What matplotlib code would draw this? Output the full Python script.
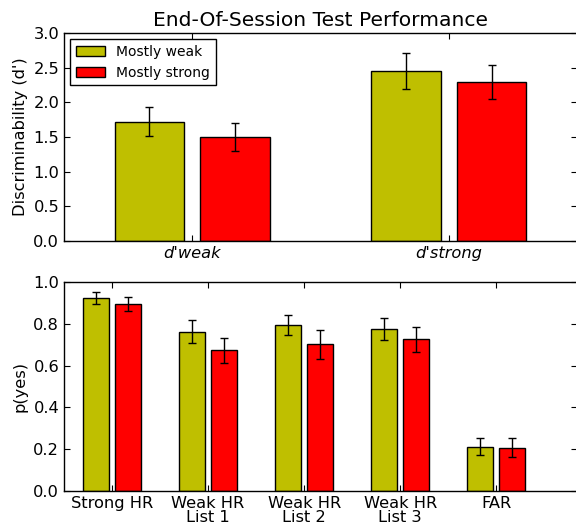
import numpy as np
import matplotlib
matplotlib.use("Agg")
from matplotlib import pyplot as plt

# data
dprime_labels = ["d'weak", "d'strong"]
dprime_weak = [1.72, 2.45]
dprime_weak_err = [0.21, 0.26]
dprime_strong = [1.50, 2.29]
dprime_strong_err = [0.20, 0.245]

p_labels = ["Strong HR", "Weak HR\nList 1", "Weak HR\nList 2", "Weak HR\nList 3", "FAR"]
p_weak = [0.923, 0.762, 0.794, 0.775, 0.212]
p_weak_err = [0.027, 0.056, 0.047, 0.053, 0.042]
p_strong = [0.893, 0.674, 0.701, 0.725, 0.207]
p_strong_err = [0.033, 0.060, 0.068, 0.061, 0.046]

series_names = ["Mostly weak", "Mostly strong"]
colors = ["y", "r"]

plt.rcParams['font.family'] = ['DejaVu Sans']
plt.rcParams['xtick.direction'] = 'in'
plt.rcParams['ytick.direction'] = 'in'
plt.rcParams['xtick.top'] = True
plt.rcParams['ytick.right'] = True

fig = plt.figure(figsize=(5.76, 5.27), dpi=100)
ax1 = fig.add_axes([0.1111, 0.5427, 0.8906, 0.3947])
ax2 = fig.add_axes([0.1111, 0.0683, 0.8906, 0.3966])

width = 0.27
off = 0.167
err_kw = dict(ecolor='k', capsize=3, elinewidth=1, capthick=1)
tick_fs = 11.7

# top panel: d'
x1 = np.arange(len(dprime_labels))
ax1.bar(x1 - off, dprime_weak, width, yerr=dprime_weak_err, color=colors[0],
        edgecolor='k', linewidth=1, label=series_names[0], error_kw=err_kw)
ax1.bar(x1 + off, dprime_strong, width, yerr=dprime_strong_err, color=colors[1],
        edgecolor='k', linewidth=1, label=series_names[1], error_kw=err_kw)
ax1.set_xlim(-0.5, 1.5)
ax1.set_ylim(0, 3.0)
ax1.set_yticks(np.arange(0, 3.01, 0.5))
ax1.set_xticks(x1)
ax1.set_xticklabels(dprime_labels, fontstyle='italic', fontsize=tick_fs)
ax1.tick_params(labelsize=tick_fs, length=4)
ax1.set_ylabel("Discriminability (d')", fontsize=tick_fs)
ax1.set_title("End-Of-Session Test Performance", fontsize=14.6, pad=5)
ax1.legend(loc='upper left', fontsize=10, fancybox=False, edgecolor='k',
           framealpha=1, handlelength=2.1, borderaxespad=0.45)

# bottom panel: p(yes)
x2 = np.arange(len(p_labels))
ax2.bar(x2 - off, p_weak, width, yerr=p_weak_err, color=colors[0],
        edgecolor='k', linewidth=1, error_kw=err_kw)
ax2.bar(x2 + off, p_strong, width, yerr=p_strong_err, color=colors[1],
        edgecolor='k', linewidth=1, error_kw=err_kw)
ax2.set_xlim(-0.5, 4.84)
ax2.set_ylim(0, 1.0)
ax2.set_yticks(np.arange(0, 1.01, 0.2))
ax2.set_xticks(x2)
ax2.set_xticklabels(p_labels, fontsize=tick_fs, linespacing=0.9)
ax2.tick_params(labelsize=tick_fs, length=4)
ax2.set_ylabel("p(yes)", fontsize=tick_fs)

for ax in (ax1, ax2):
    for s in ax.spines.values():
        s.set_linewidth(1)

fig.savefig("out.png", dpi=100)
